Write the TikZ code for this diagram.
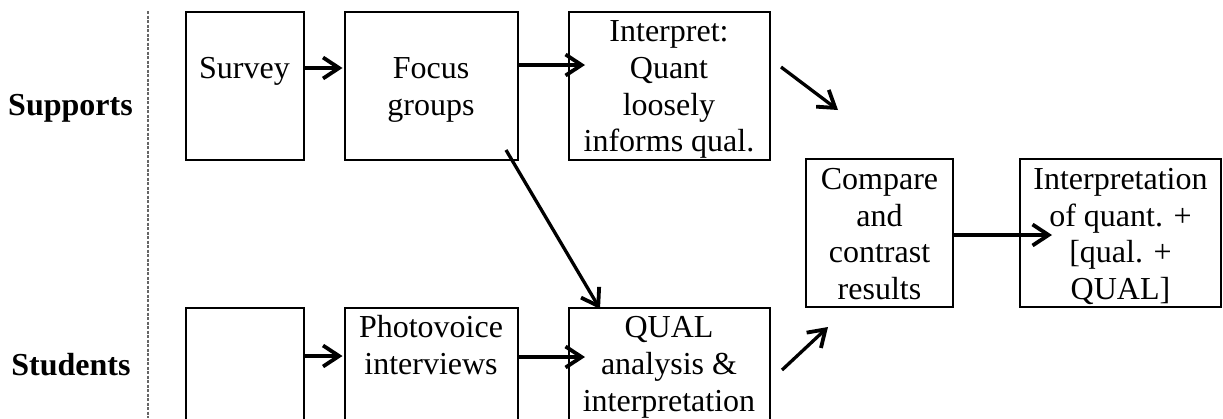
\documentclass[tikz,border=0pt]{standalone}
\usepackage{fontspec}
\setmainfont{Liberation Serif}
\usetikzlibrary{arrows.meta}
\newcommand\ls{\rule[-7pt]{0pt}{36.7pt}}
\tikzset{
  box/.style={draw=black, line width=2pt, inner sep=0pt, outer sep=0pt,
    align=center, font=\fontsize{32}{36.7}\selectfont},
  lane/.style={font=\fontsize{32}{36.7}\selectfont\bfseries, inner sep=0pt, anchor=base},
  arr/.style={line width=3.3pt, -{Straight Barb[length=16pt,width=21pt,line width=3.8pt]}},
  sep/.style={draw=black!60, line width=1.3pt, dash pattern=on 3pt off 1.5pt}
}
\begin{document}
\begin{tikzpicture}[x=1pt,y=-1pt]
\path[use as bounding box, clip] (0,0) rectangle (1223,418);
\fill[white] (0,0) rectangle (1223,418);
% lane labels and separator
\node[lane] (supports) at (70.5,115) {Supports};
\node[lane] (students) at (71,375) {Students};
\coordinate (septop) at (148,11);
\coordinate (sepbot) at (148,418);
\draw[sep] (septop) -- (sepbot);
% top row
\node[box, minimum width=118pt, minimum height=148pt] (survey) at (244.5,85.5) {\ls\\\ls Survey\\\ls\\\ls};
\node[box, minimum width=173pt, minimum height=148pt] (focus) at (431,85.5) {\ls\\\ls Focus\\\ls groups\\\ls};
\node[box, minimum width=201pt, minimum height=148pt] (interp) at (669,85.5) {\ls Interpret:\\\ls Quant\\\ls loosely\\\ls informs qual.};
% middle
\node[box, minimum width=147pt, minimum height=148pt] (compare) at (879.5,233) {\ls Compare\\\ls and\\\ls contrast\\\ls results};
\node[box, minimum width=201pt, minimum height=148pt] (final) at (1120.5,233) {\ls Interpretation\\\ls of quant. +\\\ls{[}qual. +\\\ls QUAL{]}};
% bottom row
\node[box, minimum width=118pt, minimum height=148pt] (blank) at (244.5,381.5) {};
\node[box, minimum width=173pt, minimum height=148pt] (photo) at (431,381.5) {\ls Photovoice\\\ls interviews\\\ls\\\ls};
\node[box, minimum width=201pt, minimum height=148pt] (qual) at (669,381.5) {\ls QUAL\\\ls analysis \&\\\ls interpretation\\\ls};
% connectors
\draw[arr, shorten >=2pt] ([yshift=17.5pt]survey.east) -- ([yshift=17.5pt]focus.west);
\draw[arr, shorten >=-16.5pt] ([yshift=20.5pt]focus.east) -- ([yshift=20.5pt]interp.west);
\draw[arr] ([xshift=-11.5pt,yshift=9.5pt]focus.south east) -- ([xshift=31.5pt,yshift=-1.5pt]qual.north west);
\draw[arr] ([xshift=11.5pt,yshift=18.5pt]interp.east) -- ([xshift=32pt,yshift=49pt]compare.north west);
\draw[arr] ([xshift=12.5pt,yshift=11.5pt]qual.east) -- ([xshift=22pt,yshift=-20pt]compare.south west);
\draw[arr, shorten >=-32pt] ([yshift=-2pt]compare.east) -- ([yshift=-2pt]final.west);
\draw[arr, shorten >=2pt] ([yshift=25.5pt]blank.east) -- ([yshift=25.5pt]photo.west);
\draw[arr, shorten >=-16.5pt] ([yshift=24.5pt]photo.east) -- ([yshift=24.5pt]qual.west);
\end{tikzpicture}
\end{document}
